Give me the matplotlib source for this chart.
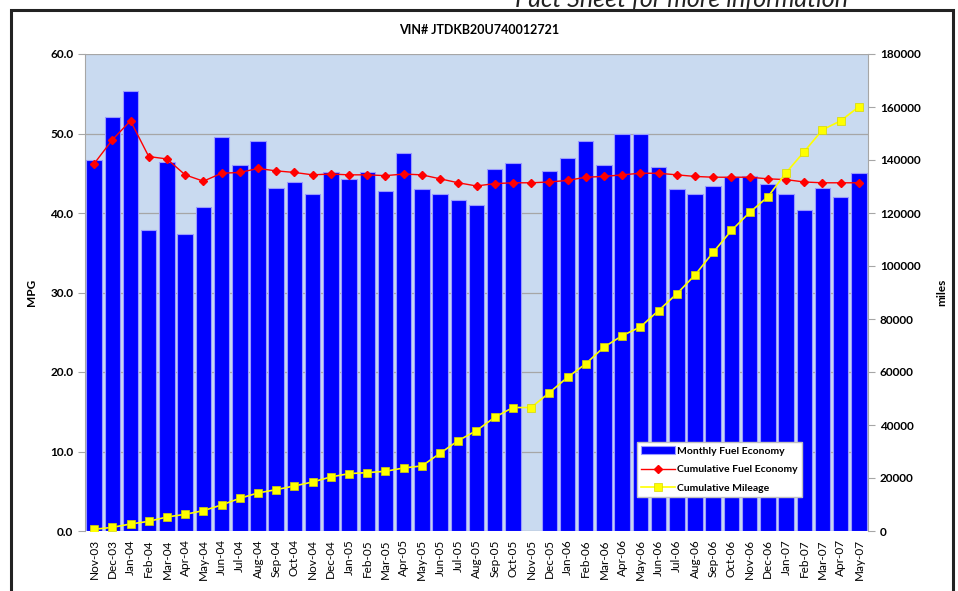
import numpy as np
import matplotlib.pyplot as plt
from matplotlib.patches import Rectangle

plt.rcParams['font.family'] = ['Lato', 'DejaVu Sans']

# Månader och värden
months = ["Nov-03", "Dec-03", "Jan-04", "Feb-04", "Mar-04", "Apr-04", "May-04", "Jun-04",
          "Jul-04", "Aug-04", "Sep-04", "Oct-04", "Nov-04", "Dec-04", "Jan-05", "Feb-05",
          "Mar-05", "Apr-05", "May-05", "Jun-05", "Jul-05", "Aug-05", "Sep-05", "Oct-05",
          "Nov-05", "Dec-05", "Jan-06", "Feb-06", "Mar-06", "Apr-06", "May-06", "Jun-06",
          "Jul-06", "Aug-06", "Sep-06", "Oct-06", "Nov-06", "Dec-06", "Jan-07", "Feb-07",
          "Mar-07", "Apr-07", "May-07"]

monthly_mpg = [46.7, 52.1, 55.3, 37.9, 46.4, 37.4, 40.8, 49.6,
               46.0, 49.0, 43.1, 43.9, 42.4, 45.2, 44.3, 45.2,
               42.8, 47.5, 43.0, 42.4, 41.6, 41.0, 45.5, 46.3,
               np.nan, 45.3, 46.9, 49.1, 46.0, 50.0, 50.0, 45.8,
               43.0, 42.4, 43.4, 44.5, 44.7, 43.7, 42.4, 40.4,
               43.2, 42.0, 45.0]

cum_mpg = [46.2, 49.2, 51.6, 47.1, 46.8, 44.8, 44.0, 45.0,
           45.1, 45.6, 45.3, 45.1, 44.8, 44.9, 44.8, 44.8,
           44.7, 44.9, 44.8, 44.3, 43.8, 43.4, 43.7, 43.8,
           43.8, 43.9, 44.1, 44.5, 44.6, 44.8, 45.0, 45.0,
           44.8, 44.6, 44.5, 44.5, 44.5, 44.3, 44.2, 43.9,
           43.8, 43.8, 43.8]

cum_miles = [630, 1380, 2640, 3650, 5290, 6290, 7680, 9820,
             12340, 14350, 15610, 17000, 18500, 20400, 21650, 22030,
             22530, 23790, 24550, 29330, 34120, 37890, 42900, 46600,
             46600, 52200, 58000, 63100, 69400, 73700, 77000, 83200,
             89500, 96600, 105200, 113400, 120200, 126100, 135200, 143200,
             151400, 154800, 160100]

W, H = 958, 591
fig = plt.figure(figsize=(W / 100, H / 100), dpi=100)

# Ram runt diagrammet
fig.patches.append(Rectangle((11 / W, -0.05), (953 - 11) / W, 1.05 - 10 / H,
                             transform=fig.transFigure, fill=False,
                             edgecolor='#222222', linewidth=2.2))
# överbliven rad ovanför ramen, avklippt i originalet
fig.text(515 / W, 1 + 1 / H, "Fact Sheet for more information", ha='left', va='center',
         fontsize=18, style='italic', color='#222222')

ax = fig.add_axes([85 / W, 1 - 531 / H, 783 / W, 477 / H])
ax.set_facecolor('#C9DAF0')
x = np.arange(len(months))

bars = ax.bar(x, monthly_mpg, width=0.85, color='#0000FF', edgecolor='#9A9AFF',
              linewidth=0.8, zorder=2, label="Monthly Fuel Economy")
line_red, = ax.plot(x, cum_mpg, color='#FF0000', marker='D', markersize=4,
                    linewidth=1, zorder=3, label="Cumulative Fuel Economy")

ax.set_xlim(-0.5, len(months) - 0.5)
ax.set_ylim(0, 60)
ax.set_yticks(np.arange(0, 61, 10))
ax.set_yticklabels([f"{v:.1f}" for v in range(0, 61, 10)])
ax.grid(axis='y', color='#A6A6A6', linewidth=0.9, zorder=1)
ax.set_axisbelow(True)
ax.set_xticks(x)
ax.set_xticklabels(months, rotation=90, fontsize=8.5)
ax.tick_params(axis='x', length=0, pad=6)
ax.tick_params(axis='y', labelsize=8.5, color='#A6A6A6', length=5)
for lab in ax.get_yticklabels():
    lab.set_fontweight('bold')
for s in ['top', 'right', 'bottom']:
    ax.spines[s].set_visible(False)
ax.spines['left'].set_color('#A6A6A6')
ax.set_ylabel("MPG", fontsize=8.5, fontweight='bold')
ax.yaxis.set_label_coords((37 - 85) / 783, 0.5)

ax2 = ax.twinx()
line_yel, = ax2.plot(x, cum_miles, color='#FFFF00', marker='s', markersize=6,
                     markeredgecolor='#D8D800', markeredgewidth=0.5,
                     linewidth=1.2, zorder=4, label="Cumulative Mileage")
ax2.set_ylim(0, 180000)
ax2.set_yticks(np.arange(0, 180001, 20000))
ax2.set_yticklabels([str(v) for v in range(0, 180001, 20000)])
ax2.tick_params(axis='y', labelsize=8.5, color='#A6A6A6', length=5)
for lab in ax2.get_yticklabels():
    lab.set_fontweight('bold')
for s in ['top', 'left', 'bottom']:
    ax2.spines[s].set_visible(False)
ax2.spines['right'].set_color('#A6A6A6')
ax2.set_ylabel("miles", fontsize=8.5, fontweight='bold')
ax2.yaxis.set_label_coords((936 - 85) / 783, 0.5)

leg = ax2.legend(handles=[bars, line_red, line_yel], loc='lower left',
                 bbox_to_anchor=(0.705, 0.071, 0.211, 0.145), mode='expand',
                 fontsize=7.5, frameon=True, fancybox=False, edgecolor='#C0C0C0',
                 framealpha=1, borderaxespad=0, handlelength=3.2, handletextpad=0.2,
                 labelspacing=0.9)
for t in leg.get_texts():
    t.set_fontweight('bold')

fig.text(479 / W, 1 - 30 / H, "VIN# JTDKB20U740012721", ha='center', va='center',
         fontsize=9, fontweight='bold')

fig.savefig("out.png", dpi=100)
